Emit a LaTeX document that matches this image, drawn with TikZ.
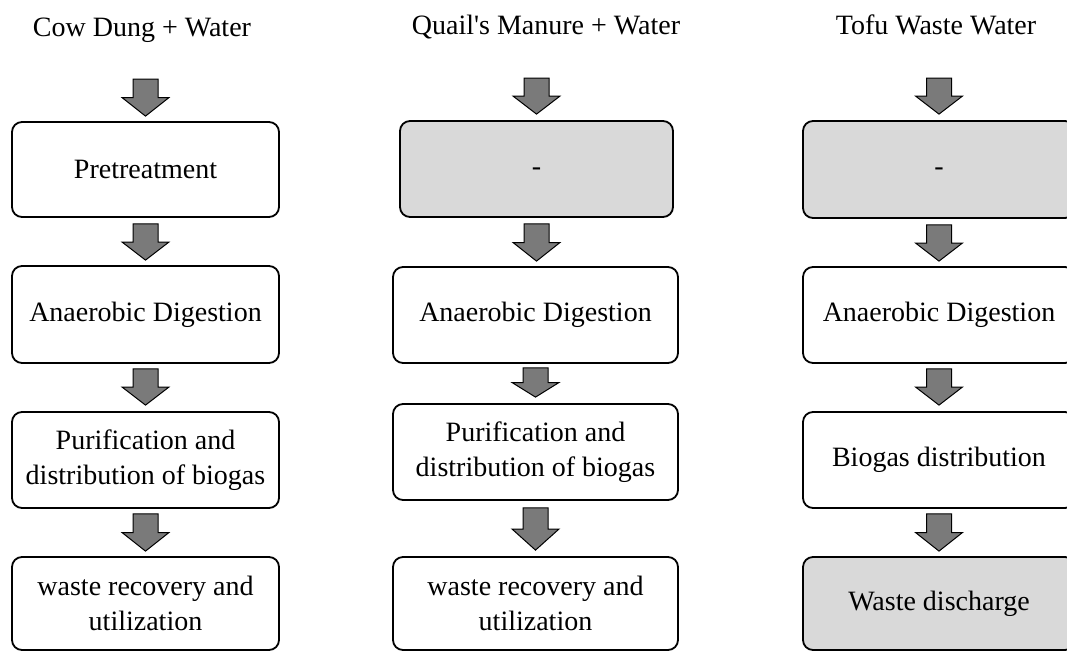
\documentclass[tikz,border=0pt]{standalone}
\usepackage{fontspec}
\setmainfont{Liberation Serif}
\usetikzlibrary{calc}
\definecolor{arrowgray}{RGB}{122,122,122}
\definecolor{boxgray}{RGB}{217,217,217}
\tikzset{
  box/.style={draw=black, line width=1.8pt, rounded corners=10pt, inner sep=0pt,
    align=center, fill=white, font=\fontsize{28}{35}\selectfont},
  graybox/.style={box, fill=boxgray},
  title/.style={inner sep=0pt, anchor=base, font=\fontsize{28}{35}\selectfont},
  arr/.style={fill=arrowgray, draw=black, line width=1pt, line join=miter}
}
\newcommand\barrow[2]{%
  \draw[arr] let \p1=#1, \p2=#2, \n1={(\y1+\y2)/2} in
    (\x1-12.5,\y1) -- (\x1-12.5,\n1) -- (\x1-23.5,\n1) -- (\x1,\y2)
    -- (\x1+23.5,\n1) -- (\x1+12.5,\n1) -- (\x1+12.5,\y1) -- cycle;}
\begin{document}
\begin{tikzpicture}[x=1pt,y=1pt]
\useasboundingbox (0,0) rectangle (1067,-651);
\clip (0,0) rectangle (1067,-651);
\fill[white] (0,0) rectangle (1067,-651);
% titles
\node[title] (c1t) at (142,-36) {Cow Dung + Water};
\node[title] (c2t) at (546,-34) {Quail\textquotesingle s Manure + Water};
\node[title] (c3t) at (936,-34) {Tofu Waste Water};
% column 1
\node[box, minimum width=267pt, minimum height=95pt] (c1b1) at (145.5,-169.5) {Pretreatment};
\node[box, minimum width=267pt, minimum height=97pt] (c1b2) at (145.5,-314.5) {Anaerobic Digestion};
\node[box, minimum width=267pt, minimum height=96pt] (c1b3) at (145.5,-460) {Purification and\\distribution of biogas};
\node[box, minimum width=267pt, minimum height=93pt] (c1b4) at (145.5,-603.5) {waste recovery and\\utilization};
% column 2
\node[graybox, minimum width=273pt, minimum height=96pt] (c2b1) at (536.5,-169) {\vphantom{Ag}-};
\node[box, minimum width=285pt, minimum height=96pt] (c2b2) at (535.5,-315) {Anaerobic Digestion};
\node[box, minimum width=285pt, minimum height=96pt] (c2b3) at (535.5,-452) {Purification and\\distribution of biogas};
\node[box, minimum width=285pt, minimum height=93pt] (c2b4) at (535.5,-603.5) {waste recovery and\\utilization};
% column 3
\node[graybox, minimum width=272pt, minimum height=97pt] (c3b1) at (939,-169.5) {\vphantom{Ag}-};
\node[box, minimum width=272pt, minimum height=96pt] (c3b2) at (939,-315) {Anaerobic Digestion};
\node[box, minimum width=272pt, minimum height=96pt] (c3b3) at (939,-460) {Biogas distribution};
\node[graybox, minimum width=272pt, minimum height=93pt] (c3b4) at (939,-603.5) {Waste discharge};
% arrow start coordinates below titles
\coordinate (c1s) at (145.5,-79);
\coordinate (c2s) at (536.5,-78);
\coordinate (c3s) at (939,-78);
% arrows
\barrow{(c1s)}{([yshift=5pt]c1b1.north)}
\barrow{([yshift=-6pt]c1b1.south)}{([yshift=5pt]c1b2.north)}
\barrow{([yshift=-5pt]c1b2.south)}{([yshift=6pt]c1b3.north)}
\barrow{([yshift=-5pt]c1b3.south)}{([yshift=5pt]c1b4.north)}
\barrow{(c2s)}{([yshift=6pt]c2b1.north)}
\barrow{([yshift=-6pt]c2b1.south)}{([yshift=5pt]c2b2.north)}
\barrow{([yshift=-4pt]c2b2.south)}{([yshift=6pt]c2b3.north)}
\barrow{([yshift=-7pt]c2b3.south)}{([yshift=6pt]c2b4.north)}
\barrow{(c3s)}{([yshift=6pt]c3b1.north)}
\barrow{([yshift=-6pt]c3b1.south)}{([yshift=5pt]c3b2.north)}
\barrow{([yshift=-5pt]c3b2.south)}{([yshift=6pt]c3b3.north)}
\barrow{([yshift=-5pt]c3b3.south)}{([yshift=5pt]c3b4.north)}
\end{tikzpicture}
\end{document}
